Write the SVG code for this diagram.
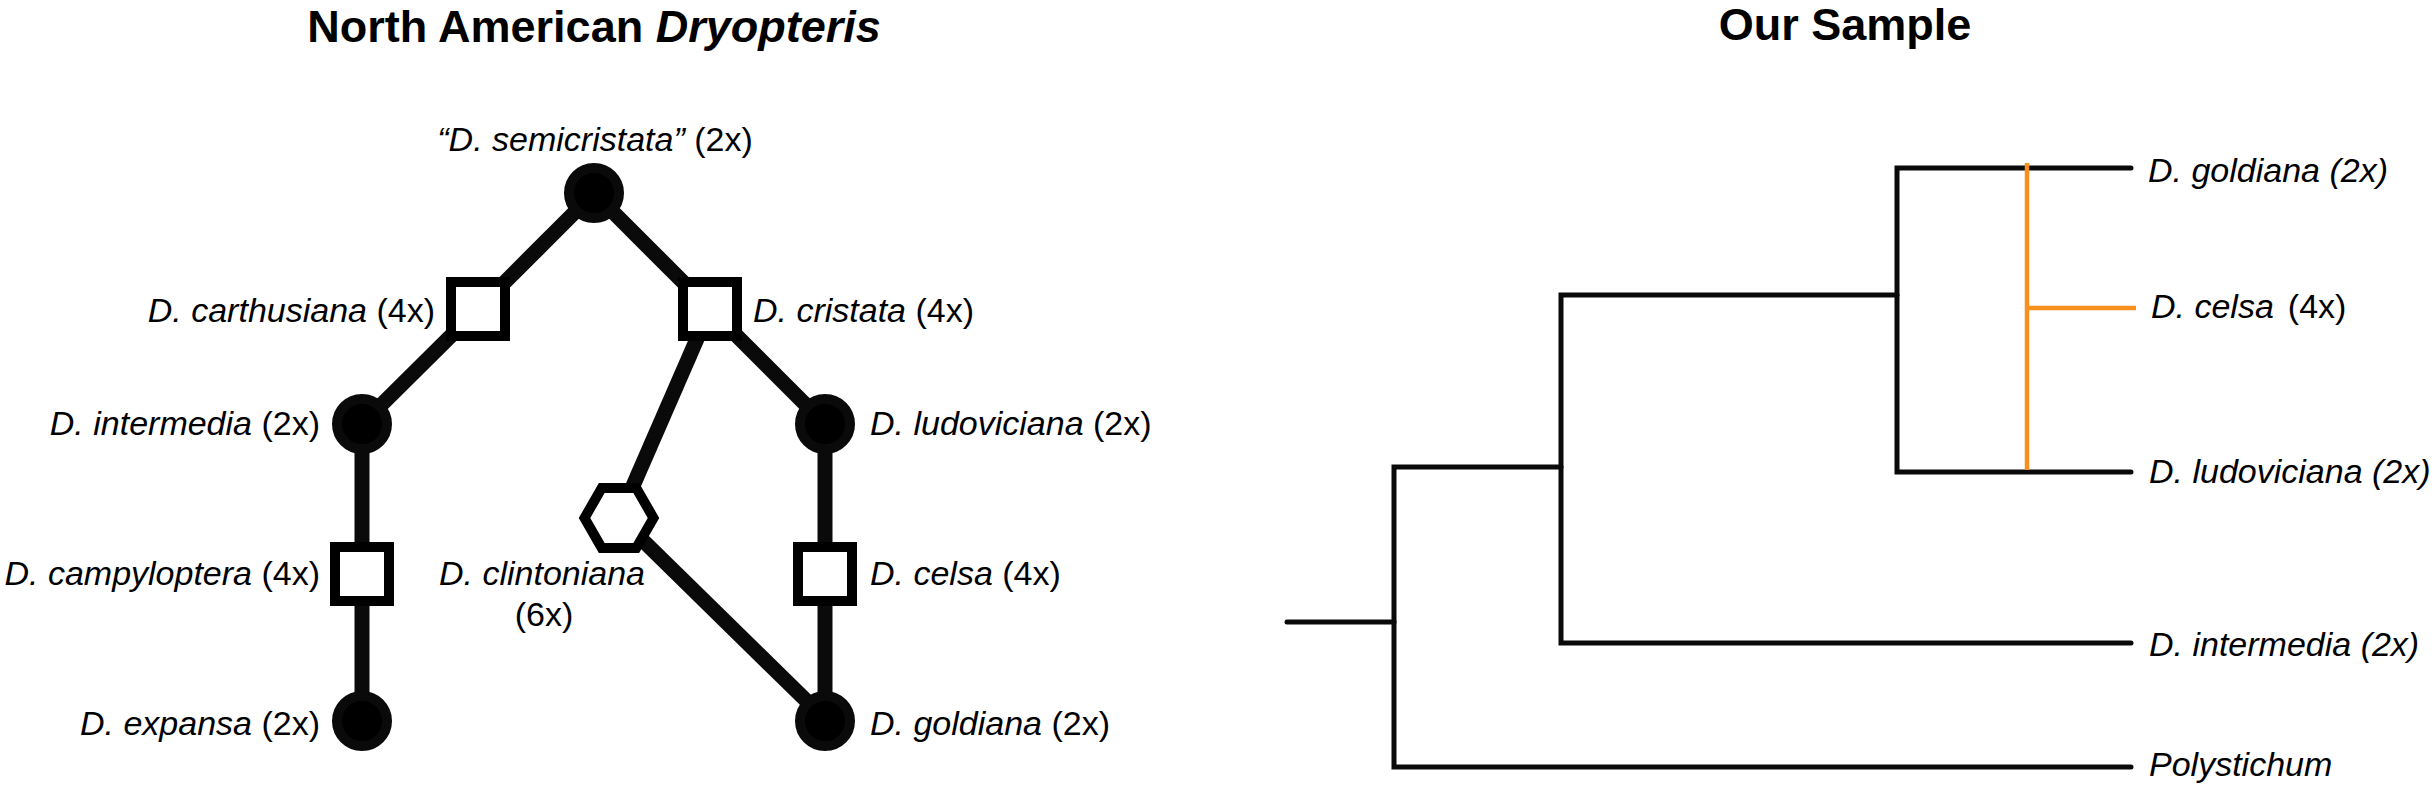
<svg xmlns="http://www.w3.org/2000/svg" width="2436" height="787" viewBox="0 0 2436 787">
<style>
.t{font-family:"Liberation Sans",Arial,sans-serif;font-size:34px;fill:#000}
.i{font-style:italic}
.h{font-family:"Liberation Sans",Arial,sans-serif;font-size:45px;font-weight:bold;fill:#000}
.e{stroke:#0a0a0a;stroke-width:15;fill:none}
.c{fill:#000;stroke:#0a0a0a;stroke-width:10}
.s{fill:#fff;stroke:#000;stroke-width:10}
.b{stroke:#0a0a0a;stroke-width:5;fill:none;stroke-linecap:round;stroke-linejoin:miter}
.o{stroke:#f7901e;stroke-width:4.5;fill:none}
</style>
<rect width="2436" height="787" fill="#fff"/>
<text class="h" x="594" y="42" text-anchor="middle">North American <tspan font-style="italic">Dryopteris</tspan></text>
<text class="h" x="1845" y="40" text-anchor="middle">Our Sample</text>

<g id="connectors-left">
<line class="e" x1="594" y1="193" x2="478" y2="309"/>
<line class="e" x1="594" y1="193" x2="710" y2="309"/>
<line class="e" x1="478" y1="309" x2="362" y2="424"/>
<line class="e" x1="710" y1="309" x2="825" y2="424"/>
<line class="e" x1="362" y1="424" x2="362" y2="721"/>
<line class="e" x1="825" y1="424" x2="825" y2="721"/>
<line class="e" x1="710" y1="309" x2="619" y2="518"/>
<line class="e" x1="622" y1="520" x2="822" y2="716"/>
</g>

<g id="semicristata"><circle class="c" cx="594" cy="193" r="25"/><text class="t" x="595" y="151" text-anchor="middle"><tspan class="i">“D. semicristata”</tspan> (2x)</text></g>
<g id="carthusiana"><rect class="s" x="451" y="282" width="54" height="54"/><text class="t" x="435" y="322" text-anchor="end"><tspan class="i">D. carthusiana</tspan> (4x)</text></g>
<g id="cristata"><rect class="s" x="683" y="282" width="54" height="54"/><text class="t" x="753" y="322"><tspan class="i">D. cristata</tspan> (4x)</text></g>
<g id="intermedia"><circle class="c" cx="362" cy="424" r="25"/><text class="t" x="320" y="435" text-anchor="end"><tspan class="i">D. intermedia</tspan> (2x)</text></g>
<g id="ludoviciana"><circle class="c" cx="825" cy="424" r="25"/><text class="t" x="870" y="435"><tspan class="i">D. ludoviciana</tspan> (2x)</text></g>
<g id="clintoniana"><polygon class="s" points="653.5,518 636.25,547.9 601.75,547.9 584.5,518 601.75,488.1 636.25,488.1"/><text class="t" x="542" y="585" text-anchor="middle"><tspan class="i">D. clintoniana</tspan></text><text class="t" x="544" y="626" text-anchor="middle">(6x)</text></g>
<g id="campyloptera"><rect class="s" x="335" y="547" width="54" height="54"/><text class="t" x="320" y="585" text-anchor="end"><tspan class="i">D. campyloptera</tspan> (4x)</text></g>
<g id="celsa"><rect class="s" x="798" y="547" width="54" height="54"/><text class="t" x="870" y="585"><tspan class="i">D. celsa</tspan> (4x)</text></g>
<g id="expansa"><circle class="c" cx="362" cy="721" r="25"/><text class="t" x="320" y="735" text-anchor="end"><tspan class="i">D. expansa</tspan> (2x)</text></g>
<g id="goldiana"><circle class="c" cx="825" cy="721" r="25"/><text class="t" x="870" y="735"><tspan class="i">D. goldiana</tspan> (2x)</text></g>

<g id="connectors-right">
<path class="b" d="M1287,622 H1394"/>
<path class="b" d="M2131,767 H1394 V467 H1561"/>
<path class="b" d="M2131,643 H1561 V295 H1897"/>
<path class="b" d="M2131,168 H1897 V472 H2131"/>
<path class="o" d="M2027,163 V470 M2027,308 H2136"/>
</g>
<g id="r-goldiana"><text class="t i" x="2148" y="182">D. goldiana (2x)</text></g>
<g id="r-celsa"><text class="t" x="2151" y="318"><tspan class="i">D. celsa</tspan><tspan dx="14">(4x)</tspan></text></g>
<g id="r-ludoviciana"><text class="t i" x="2149" y="483">D. ludoviciana (2x)</text></g>
<g id="r-intermedia"><text class="t i" x="2149" y="656">D. intermedia (2x)</text></g>
<g id="r-polystichum"><text class="t i" x="2149" y="776">Polystichum</text></g>
</svg>
